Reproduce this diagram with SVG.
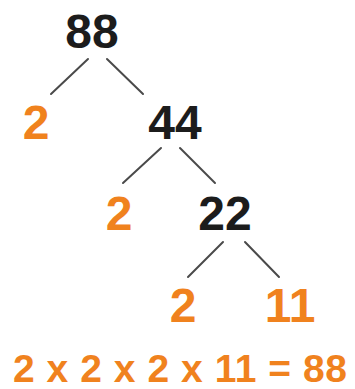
<svg xmlns="http://www.w3.org/2000/svg" width="355" height="389" viewBox="0 0 355 389">
<style>
text{font-family:"Liberation Sans","DejaVu Sans",sans-serif;font-weight:bold;text-anchor:middle}
.k{fill:#1c1c1c;font-size:48px}
.o{fill:#f0821e;font-size:48px}
.eq{fill:#f0821e;font-size:39px}
.ln{stroke:#4a4a4a;stroke-width:2;stroke-linecap:round;fill:none}
</style>
<rect width="355" height="389" fill="#ffffff"/>
<g id="connectors">
<line class="ln" x1="88" y1="59" x2="51" y2="94"/>
<line class="ln" x1="107" y1="59" x2="143" y2="94"/>
<line class="ln" x1="161" y1="148" x2="123" y2="183"/>
<line class="ln" x1="180" y1="148" x2="215" y2="183"/>
<line class="ln" x1="223" y1="242" x2="188" y2="277"/>
<line class="ln" x1="245" y1="242" x2="279" y2="277"/>
</g>
<g id="n88"><text class="k" x="92" y="48">88</text></g>
<g id="n2a"><text class="o" x="36" y="139">2</text></g>
<g id="n44"><text class="k" x="175" y="139">44</text></g>
<g id="n2b"><text class="o" x="119" y="230">2</text></g>
<g id="n22"><text class="k" x="225" y="230">22</text></g>
<g id="n2c"><text class="o" x="183" y="322">2</text></g>
<g id="n11"><text class="o" x="290" y="322">11</text></g>
<g id="equation"><text class="eq" x="180" y="382" textLength="334" lengthAdjust="spacing">2 x 2 x 2 x 11 = 88</text></g>
</svg>
